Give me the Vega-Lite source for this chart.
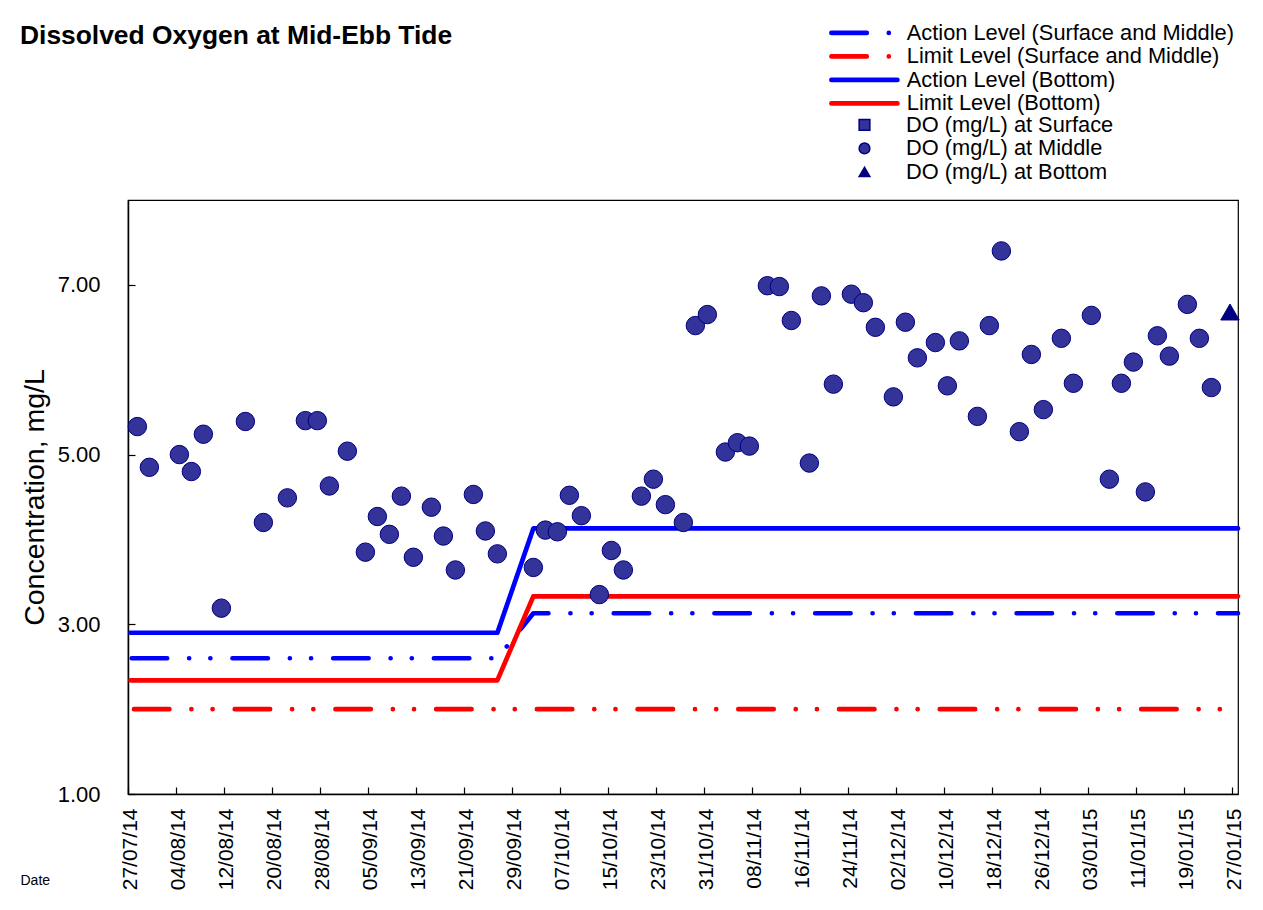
{
  "$schema": "https://vega.github.io/schema/vega-lite/v6.json",
  "width": 1110,
  "height": 594,
  "autosize": {"type": "none"},
  "padding": {"left": 128, "top": 200, "right": 25, "bottom": 116},
  "background": "white",
  "config": {
    "font": "Liberation Sans",
    "view": {"stroke": "#000", "strokeWidth": 1.2}
  },
  "title": {
    "text": "Dissolved Oxygen at Mid-Ebb Tide",
    "anchor": "start",
    "frame": "group",
    "dx": -108,
    "fontSize": 26.4,
    "fontWeight": "bold",
    "font": "Liberation Sans",
    "color": "#000",
    "baseline": "alphabetic",
    "offset": -48
  },
  "datasets": {
    "levels": [
      {"date": "2014-07-27T15:00", "value": 2.6, "series": "Action Level (Surface and Middle)"},
      {"date": "2014-09-26T13:30", "value": 2.6, "series": "Action Level (Surface and Middle)"},
      {"date": "2014-10-02T13:30", "value": 3.13, "series": "Action Level (Surface and Middle)"},
      {"date": "2015-01-28T00:00", "value": 3.13, "series": "Action Level (Surface and Middle)"},
      {"date": "2014-07-28T00:00", "value": 2.0, "series": "Limit Level (Surface and Middle)"},
      {"date": "2015-01-28T00:00", "value": 2.0, "series": "Limit Level (Surface and Middle)"},
      {"date": "2014-07-27T10:00", "value": 2.9, "series": "Action Level (Bottom)"},
      {"date": "2014-09-26T13:30", "value": 2.9, "series": "Action Level (Bottom)"},
      {"date": "2014-10-02T13:30", "value": 4.13, "series": "Action Level (Bottom)"},
      {"date": "2015-01-28T00:00", "value": 4.13, "series": "Action Level (Bottom)"},
      {"date": "2014-07-27T10:00", "value": 2.34, "series": "Limit Level (Bottom)"},
      {"date": "2014-09-26T13:30", "value": 2.34, "series": "Limit Level (Bottom)"},
      {"date": "2014-10-02T13:30", "value": 3.33, "series": "Limit Level (Bottom)"},
      {"date": "2015-01-28T00:00", "value": 3.33, "series": "Limit Level (Bottom)"}
    ],
    "do": [
      {"date": "2014-07-28T13:30", "value": 5.33, "depth": "Middle"},
      {"date": "2014-07-30T13:30", "value": 4.85, "depth": "Middle"},
      {"date": "2014-08-04T13:30", "value": 5.00, "depth": "Middle"},
      {"date": "2014-08-06T13:30", "value": 4.80, "depth": "Middle"},
      {"date": "2014-08-08T13:30", "value": 5.24, "depth": "Middle"},
      {"date": "2014-08-11T13:30", "value": 3.19, "depth": "Middle"},
      {"date": "2014-08-15T13:30", "value": 5.39, "depth": "Middle"},
      {"date": "2014-08-18T13:30", "value": 4.20, "depth": "Middle"},
      {"date": "2014-08-22T13:30", "value": 4.49, "depth": "Middle"},
      {"date": "2014-08-25T13:30", "value": 5.40, "depth": "Middle"},
      {"date": "2014-08-27T13:30", "value": 5.40, "depth": "Middle"},
      {"date": "2014-08-29T13:30", "value": 4.63, "depth": "Middle"},
      {"date": "2014-09-01T13:30", "value": 5.04, "depth": "Middle"},
      {"date": "2014-09-04T13:30", "value": 3.85, "depth": "Middle"},
      {"date": "2014-09-06T13:30", "value": 4.27, "depth": "Middle"},
      {"date": "2014-09-08T13:30", "value": 4.06, "depth": "Middle"},
      {"date": "2014-09-10T13:30", "value": 4.51, "depth": "Middle"},
      {"date": "2014-09-12T13:30", "value": 3.79, "depth": "Middle"},
      {"date": "2014-09-15T13:30", "value": 4.38, "depth": "Middle"},
      {"date": "2014-09-17T13:30", "value": 4.04, "depth": "Middle"},
      {"date": "2014-09-19T13:30", "value": 3.64, "depth": "Middle"},
      {"date": "2014-09-22T13:30", "value": 4.53, "depth": "Middle"},
      {"date": "2014-09-24T13:30", "value": 4.10, "depth": "Middle"},
      {"date": "2014-09-26T13:30", "value": 3.83, "depth": "Middle"},
      {"date": "2014-10-02T13:30", "value": 3.67, "depth": "Middle"},
      {"date": "2014-10-04T13:30", "value": 4.11, "depth": "Middle"},
      {"date": "2014-10-06T13:30", "value": 4.09, "depth": "Middle"},
      {"date": "2014-10-08T13:30", "value": 4.52, "depth": "Middle"},
      {"date": "2014-10-10T13:30", "value": 4.28, "depth": "Middle"},
      {"date": "2014-10-13T13:30", "value": 3.35, "depth": "Middle"},
      {"date": "2014-10-15T13:30", "value": 3.87, "depth": "Middle"},
      {"date": "2014-10-17T13:30", "value": 3.64, "depth": "Middle"},
      {"date": "2014-10-20T13:30", "value": 4.51, "depth": "Middle"},
      {"date": "2014-10-22T13:30", "value": 4.71, "depth": "Middle"},
      {"date": "2014-10-24T13:30", "value": 4.41, "depth": "Middle"},
      {"date": "2014-10-27T13:30", "value": 4.20, "depth": "Middle"},
      {"date": "2014-10-29T13:30", "value": 6.52, "depth": "Middle"},
      {"date": "2014-10-31T13:30", "value": 6.65, "depth": "Middle"},
      {"date": "2014-11-03T13:30", "value": 5.03, "depth": "Middle"},
      {"date": "2014-11-05T13:30", "value": 5.14, "depth": "Middle"},
      {"date": "2014-11-07T13:30", "value": 5.10, "depth": "Middle"},
      {"date": "2014-11-10T13:30", "value": 6.99, "depth": "Middle"},
      {"date": "2014-11-12T13:30", "value": 6.98, "depth": "Middle"},
      {"date": "2014-11-14T13:30", "value": 6.58, "depth": "Middle"},
      {"date": "2014-11-17T13:30", "value": 4.90, "depth": "Middle"},
      {"date": "2014-11-19T13:30", "value": 6.87, "depth": "Middle"},
      {"date": "2014-11-21T13:30", "value": 5.83, "depth": "Middle"},
      {"date": "2014-11-24T13:30", "value": 6.89, "depth": "Middle"},
      {"date": "2014-11-26T13:30", "value": 6.79, "depth": "Middle"},
      {"date": "2014-11-28T13:30", "value": 6.50, "depth": "Middle"},
      {"date": "2014-12-01T13:30", "value": 5.68, "depth": "Middle"},
      {"date": "2014-12-03T13:30", "value": 6.56, "depth": "Middle"},
      {"date": "2014-12-05T13:30", "value": 6.14, "depth": "Middle"},
      {"date": "2014-12-08T13:30", "value": 6.32, "depth": "Middle"},
      {"date": "2014-12-10T13:30", "value": 5.81, "depth": "Middle"},
      {"date": "2014-12-12T13:30", "value": 6.34, "depth": "Middle"},
      {"date": "2014-12-15T13:30", "value": 5.45, "depth": "Middle"},
      {"date": "2014-12-17T13:30", "value": 6.52, "depth": "Middle"},
      {"date": "2014-12-19T13:30", "value": 7.40, "depth": "Middle"},
      {"date": "2014-12-22T13:30", "value": 5.27, "depth": "Middle"},
      {"date": "2014-12-24T13:30", "value": 6.18, "depth": "Middle"},
      {"date": "2014-12-26T13:30", "value": 5.53, "depth": "Middle"},
      {"date": "2014-12-29T13:30", "value": 6.37, "depth": "Middle"},
      {"date": "2014-12-31T13:30", "value": 5.84, "depth": "Middle"},
      {"date": "2015-01-03T13:30", "value": 6.64, "depth": "Middle"},
      {"date": "2015-01-06T13:30", "value": 4.71, "depth": "Middle"},
      {"date": "2015-01-08T13:30", "value": 5.84, "depth": "Middle"},
      {"date": "2015-01-10T13:30", "value": 6.09, "depth": "Middle"},
      {"date": "2015-01-12T13:30", "value": 4.56, "depth": "Middle"},
      {"date": "2015-01-14T13:30", "value": 6.40, "depth": "Middle"},
      {"date": "2015-01-16T13:30", "value": 6.16, "depth": "Middle"},
      {"date": "2015-01-19T13:30", "value": 6.77, "depth": "Middle"},
      {"date": "2015-01-21T13:30", "value": 6.37, "depth": "Middle"},
      {"date": "2015-01-23T13:30", "value": 5.79, "depth": "Middle"},
      {"date": "2015-01-26T16:00", "value": 6.68, "depth": "Bottom"}
    ]
  },
  "encoding": {
    "x": {
      "field": "date",
      "type": "temporal",
      "scale": {
        "domain": [{"year": 2014, "month": "Jul", "date": 27}, {"year": 2015, "month": "Jan", "date": 28}],
        "nice": false
      },
      "axis": {
        "values": [
          {"year": 2014, "month": "Jul", "date": 27},
          {"year": 2014, "month": "Aug", "date": 4},
          {"year": 2014, "month": "Aug", "date": 12},
          {"year": 2014, "month": "Aug", "date": 20},
          {"year": 2014, "month": "Aug", "date": 28},
          {"year": 2014, "month": "Sep", "date": 5},
          {"year": 2014, "month": "Sep", "date": 13},
          {"year": 2014, "month": "Sep", "date": 21},
          {"year": 2014, "month": "Sep", "date": 29},
          {"year": 2014, "month": "Oct", "date": 7},
          {"year": 2014, "month": "Oct", "date": 15},
          {"year": 2014, "month": "Oct", "date": 23},
          {"year": 2014, "month": "Oct", "date": 31},
          {"year": 2014, "month": "Nov", "date": 8},
          {"year": 2014, "month": "Nov", "date": 16},
          {"year": 2014, "month": "Nov", "date": 24},
          {"year": 2014, "month": "Dec", "date": 2},
          {"year": 2014, "month": "Dec", "date": 10},
          {"year": 2014, "month": "Dec", "date": 18},
          {"year": 2014, "month": "Dec", "date": 26},
          {"year": 2015, "month": "Jan", "date": 3},
          {"year": 2015, "month": "Jan", "date": 11},
          {"year": 2015, "month": "Jan", "date": 19},
          {"year": 2015, "month": "Jan", "date": 27}
        ],
        "format": "%d/%m/%y",
        "labelAngle": -90,
        "labelFontSize": 21,
        "labelColor": "#000",
        "labelPadding": 21,
        "labelOffset": 2.5,
        "labelFlush": false,
        "labelOverlap": false,
        "labelBound": false,
        "tickSize": -7,
        "tickColor": "#000",
        "tickWidth": 1.2,
        "domainColor": "#000",
        "domainWidth": 1.5,
        "grid": false,
        "title": "Date",
        "titleFontSize": 14,
        "titleFontWeight": "normal",
        "titleColor": "#000",
        "titleX": -108,
        "titleY": 90,
        "titleAlign": "left",
        "titleAnchor": "start",
        "titleBaseline": "alphabetic"
      }
    },
    "y": {
      "field": "value",
      "type": "quantitative",
      "scale": {"domain": [1, 8], "nice": false, "zero": false},
      "axis": {
        "values": [1, 3, 5, 7],
        "format": ".2f",
        "labelFontSize": 22,
        "labelColor": "#000",
        "labelPadding": 35,
        "labelFlush": false,
        "tickSize": -7,
        "tickColor": "#000",
        "tickWidth": 1.2,
        "domainColor": "#000",
        "domainWidth": 1.5,
        "grid": false,
        "title": "Concentration, mg/L",
        "titleFontSize": 28.5,
        "titleFontWeight": "normal",
        "titleColor": "#000",
        "titleX": -85,
        "titleY": 297,
        "titleAngle": -90,
        "titleAlign": "center",
        "titleBaseline": "alphabetic"
      }
    }
  },
  "layer": [
    {
      "data": {"name": "levels"},
      "mark": {"type": "line", "strokeWidth": 4.7, "strokeCap": "round", "strokeJoin": "round"},
      "encoding": {
        "color": {
          "field": "series",
          "type": "nominal",
          "scale": {
            "domain": ["Action Level (Surface and Middle)", "Limit Level (Surface and Middle)", "Action Level (Bottom)", "Limit Level (Bottom)"],
            "range": ["#0000FF", "#FF0000", "#0000FF", "#FF0000"]
          },
          "legend": {
            "title": null,
            "orient": "none",
            "legendX": 725.5,
            "legendY": -178,
            "padding": 0,
            "symbolType": "M-6.6,0H6.6",
            "symbolSize": 100,
            "symbolStrokeWidth": 4.7,
            "labelFontSize": 21.8,
            "labelColor": "#000",
            "labelOffset": 31.5,
            "labelLimit": 0,
            "rowPadding": 0.5,
            "encode": {"symbols": {"update": {"strokeCap": {"value": "round"}, "fill": {"value": "transparent"}}}}
          }
        },
        "strokeDash": {
          "field": "series",
          "type": "nominal",
          "scale": {
            "domain": ["Action Level (Surface and Middle)", "Limit Level (Surface and Middle)", "Action Level (Bottom)", "Limit Level (Bottom)"],
            "range": [[35.4, 22, 0.01, 21.2, 0.01, 22.1], [35.4, 22, 0.01, 21.2, 0.01, 22.1], [1, 0], [1, 0]]
          },
          "legend": {
            "title": null,
            "orient": "none",
            "legendX": 725.5,
            "legendY": -178,
            "padding": 0,
            "symbolType": "M-6.6,0H6.6",
            "symbolSize": 100,
            "symbolStrokeWidth": 4.7,
            "labelFontSize": 21.8,
            "labelColor": "#000",
            "labelOffset": 31.5,
            "labelLimit": 0,
            "rowPadding": 0.5,
            "encode": {"symbols": {"update": {"strokeCap": {"value": "round"}, "fill": {"value": "transparent"}}}}
          }
        }
      }
    },
    {
      "data": {"name": "do"},
      "mark": {"type": "point", "filled": true, "stroke": "#000080", "strokeWidth": 1, "size": 340, "opacity": 1},
      "encoding": {
        "shape": {
          "field": "depth",
          "type": "nominal",
          "scale": {"domain": ["Surface", "Middle", "Bottom"], "range": ["square", "circle", "triangle-up"]},
          "legend": {
            "title": null,
            "orient": "none",
            "legendX": 725.6,
            "legendY": -86,
            "padding": 0,
            "symbolSize": 115,
            "labelFontSize": 21.8,
            "labelColor": "#000",
            "labelOffset": 30.7,
            "labelLimit": 0,
            "rowPadding": 0.5,
            "labelExpr": "'DO (mg/L) at ' + datum.label",
            "encode": {"symbols": {"update": {"size": {"value": 115}, "stroke": {"value": "#000080"}, "strokeWidth": {"value": 1}}}}
          }
        },
        "fill": {
          "field": "depth",
          "type": "nominal",
          "scale": {"domain": ["Surface", "Middle", "Bottom"], "range": ["#333399", "#333399", "#000080"]},
          "legend": {
            "title": null,
            "orient": "none",
            "legendX": 725.6,
            "legendY": -86,
            "padding": 0,
            "symbolSize": 115,
            "labelFontSize": 21.8,
            "labelColor": "#000",
            "labelOffset": 30.7,
            "labelLimit": 0,
            "rowPadding": 0.5,
            "labelExpr": "'DO (mg/L) at ' + datum.label",
            "encode": {"symbols": {"update": {"size": {"value": 115}, "stroke": {"value": "#000080"}, "strokeWidth": {"value": 1}}}}
          }
        }
      }
    }
  ]
}
